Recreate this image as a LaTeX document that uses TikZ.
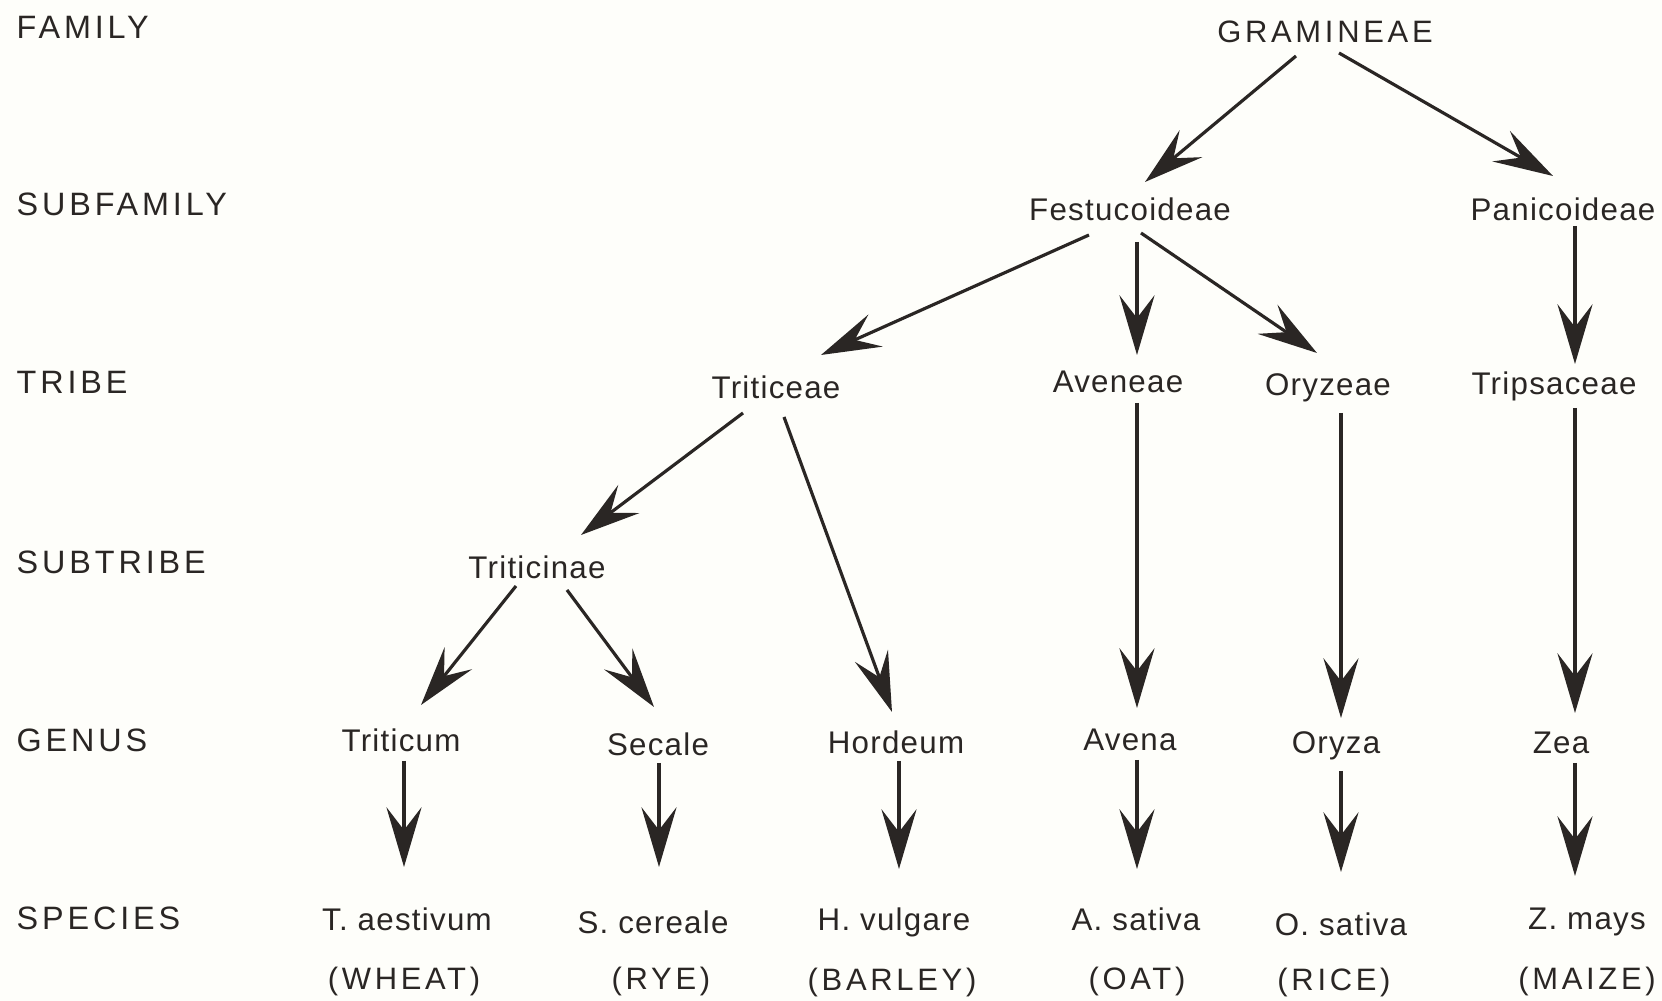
\documentclass[tikz,border=0pt]{standalone}
\usepackage{fontspec}
\setmainfont{Liberation Sans}[LetterSpace=4]
\newfontfamily\capsfont{Liberation Sans}[LetterSpace=12]
\usetikzlibrary{arrows.meta}
\definecolor{ink}{HTML}{2A2624}
\definecolor{paper}{HTML}{FEFEFA}
\begin{document}
\begin{tikzpicture}[x=0.01cm,y=-0.01cm,
  lbl/.style={font=\fontsize{8.9}{10}\selectfont, text=ink, inner sep=0pt},
  capl/.style={font=\capsfont\fontsize{8.8}{10}\selectfont, text=ink, inner sep=0pt},
  rank/.style={font=\capsfont\fontsize{9.2}{10}\selectfont, text=ink, inner sep=0pt, anchor=west},
  arr/.style={draw=ink, line width=0.9pt, -{Stealth[length=17pt,width=10pt,inset=6.5pt]}}]
\fill[paper] (0,0) rectangle (1662,1001);
\useasboundingbox (0,0) rectangle (1662,1001);
% rank labels
\node[rank] (rfam) at (16,27) {FAMILY};
\node[rank] (rsub) at (16,204) {SUBFAMILY};
\node[rank] (rtri) at (16,382) {TRIBE};
\node[rank] (rstr) at (16,562) {SUBTRIBE};
\node[rank] (rgen) at (16,740) {GENUS};
\node[rank] (rspe) at (16,918) {SPECIES};
% taxa
\node[capl] (gram) at (1325,32) {GRAMINEAE};
\node[lbl] (fest) at (1130,209) {Festucoideae};
\node[lbl] (pani) at (1563,209) {Panicoideae};
\node[lbl] (trit) at (776,387) {Triticeae};
\node[lbl] (aven) at (1118,382) {Aveneae};
\node[lbl] (oryz) at (1328,388) {Oryzeae};
\node[lbl] (trip) at (1554,386) {Tripsaceae};
\node[lbl] (ttnae) at (537,567) {Triticinae};
\node[lbl] (ticum) at (401,740) {Triticum};
\node[lbl] (seca) at (658,744) {Secale};
\node[lbl] (hord) at (896,742) {Hordeum};
\node[lbl] (avena) at (1130,740) {Avena};
\node[lbl] (oryza) at (1336,746) {Oryza};
\node[lbl] (zea) at (1561,743) {Zea};
\node[lbl] (sp1) at (407,919) {T. aestivum};
\node[lbl] (sp2) at (653,922) {S. cereale};
\node[lbl] (sp3) at (894,922) {H. vulgare};
\node[lbl] (sp4) at (1136,919) {A. sativa};
\node[lbl] (sp5) at (1341,924) {O. sativa};
\node[lbl] (sp6) at (1587,922) {Z. mays};
\node[capl] (cn1) at (404,982) {(WHEAT)};
\node[capl] (cn2) at (661,982) {(RYE)};
\node[capl] (cn3) at (892,983) {(BARLEY)};
\node[capl] (cn4) at (1137,982) {(OAT)};
\node[capl] (cn5) at (1334,983) {(RICE)};
\node[capl] (cn6) at (1587,982) {(MAIZE)};
% connectors
\draw[arr] ([shift={(-29,24)}]gram.center) -- ([shift={(15,-27)}]fest.center);
\draw[arr] ([shift={(14,21)}]gram.center) -- ([shift={(-10,-33)}]pani.center);
\draw[arr] ([shift={(-41,26)}]fest.center) -- ([shift={(45,-32)}]trit.center);
\draw[arr] ([shift={(7,33)}]fest.center) -- ([shift={(19,-27)}]aven.center);
\draw[arr] ([shift={(11,24)}]fest.center) -- ([shift={(-11,-35)}]oryz.center);
\draw[arr] ([shift={(12,17)}]pani.center) -- ([shift={(21,-22)}]trip.center);
\draw[arr] ([shift={(-33,26)}]trit.center) -- ([shift={(44,-32)}]ttnae.center);
\draw[arr] ([shift={(8,30)}]trit.center) -- ([shift={(-4,-30)}]hord.center);
\draw[arr] ([shift={(19,21)}]aven.center) -- ([shift={(7,-32)}]avena.center);
\draw[arr] ([shift={(13,25)}]oryz.center) -- ([shift={(5,-28)}]oryza.center);
\draw[arr] ([shift={(21,22)}]trip.center) -- ([shift={(14,-30)}]zea.center);
\draw[arr] ([shift={(-21,19)}]ttnae.center) -- ([shift={(20,-35)}]ticum.center);
\draw[arr] ([shift={(30,23)}]ttnae.center) -- ([shift={(-4,-37)}]seca.center);
\draw[arr] ([shift={(3,21)}]ticum.center) -- ([shift={(-3,-52)}]sp1.center);
\draw[arr] ([shift={(1,19)}]seca.center) -- ([shift={(6,-55)}]sp2.center);
\draw[arr] ([shift={(3,19)}]hord.center) -- ([shift={(5,-53)}]sp3.center);
\draw[arr] ([shift={(7,20)}]avena.center) -- ([shift={(1,-50)}]sp4.center);
\draw[arr] ([shift={(5,25)}]oryza.center) -- ([shift={(0,-52)}]sp5.center);
\draw[arr] ([shift={(14,20)}]zea.center) -- ([shift={(-12,-46)}]sp6.center);
\end{tikzpicture}
\end{document}
